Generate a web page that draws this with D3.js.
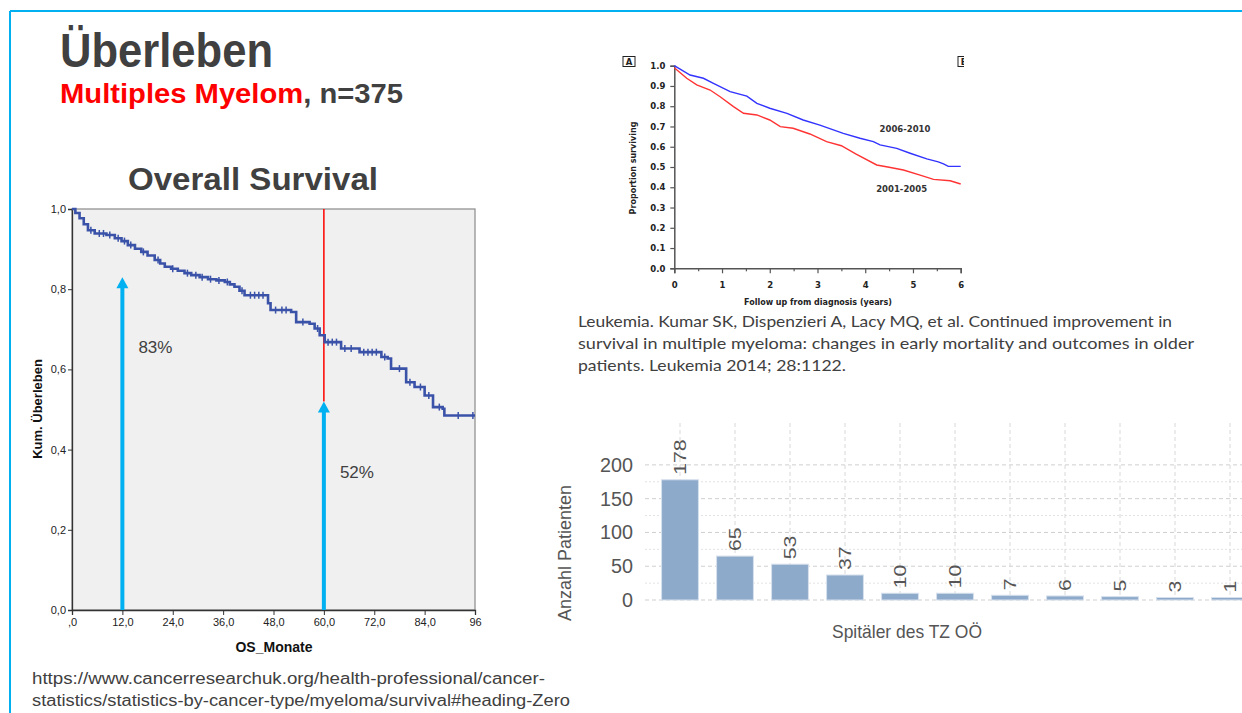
<!DOCTYPE html>
<html>
<head>
<meta charset="utf-8">
<script src="https://cdn.jsdelivr.net/npm/d3@7"></script>
<style>
  body { margin: 0; background: #fff; }
  svg { display: block; }
</style>
</head>
<body>
<svg id="slide" width="1242" height="713"></svg>
<script>
// ---- Overall Survival (Kaplan-Meier, OS in months) ----
var kmMonths = [0, 0.8, 1.8, 2.8, 3.8, 5.4, 8.2, 10.2, 11.8, 13.3, 15, 16.5, 18, 19.7, 21, 22.1, 23.6, 25.2, 26.8, 28.4,
                30.4, 32.4, 34.4, 36.4, 37.6, 38.7, 39.9, 41.1, 46.7, 47.3, 52.2, 53.4, 56.6, 57.8, 59, 60.2, 64.1, 68.5,
                73.7, 75.2, 76, 79.6, 81.6, 84, 86, 88.3, 88.7, 96];
var kmSurv = [1.0, 0.99, 0.977, 0.962, 0.947, 0.939, 0.935, 0.927, 0.92, 0.91, 0.901, 0.893, 0.884, 0.873, 0.864, 0.856,
              0.851, 0.846, 0.84, 0.835, 0.83, 0.825, 0.822, 0.818, 0.812, 0.806, 0.796, 0.785, 0.765, 0.748, 0.743,
              0.718, 0.714, 0.702, 0.685, 0.668, 0.652, 0.643, 0.631, 0.627, 0.602, 0.568, 0.556, 0.535, 0.506, 0.502,
              0.485, 0.485];
var kmCensored = [4.5, 6.5, 7.5, 9, 11, 12.5, 14, 17, 20.5, 24, 27.5, 29.5, 31, 33, 35, 37, 40.5, 42.5, 43.5, 44.5, 45.5,
                  48.5, 50, 51, 55, 58.5, 61, 62, 63, 65, 66.5, 69.5, 70.5, 71.5, 72.5, 74.5, 78, 80.5, 83, 85, 87.5, 92, 95.5];
var kmXTicks = [0, 12, 24, 36, 48, 60, 72, 84, 96];
var kmXLabels = [",0", "12,0", "24,0", "36,0", "48,0", "60,0", "72,0", "84,0", "96"];
var kmYTicks = [0, 0.2, 0.4, 0.6, 0.8, 1.0];
var markMonths = [12, 60];
var markValues = [0.83, 0.52];
var markLabels = ["83%", "52%"];

// ---- Kumar et al. survival by period (years) ----
var blueYears = [0, 0.33, 0.61, 0.82, 1.17, 1.52, 1.73, 2.0, 2.36, 2.7, 3.05, 3.54, 3.89, 4.17, 4.31, 4.66, 4.94, 5.29, 5.53, 5.64, 5.74, 6.0];
var blueSurv  = [1.0, 0.954, 0.938, 0.913, 0.872, 0.85, 0.814, 0.79, 0.765, 0.732, 0.707, 0.666, 0.642, 0.625, 0.609, 0.592, 0.568, 0.54, 0.525, 0.515, 0.503, 0.503];
var redYears  = [0, 0.26, 0.47, 0.75, 0.96, 1.24, 1.45, 1.73, 2.0, 2.22, 2.49, 2.84, 3.19, 3.5, 3.8, 4.24, 4.5, 4.8, 5.15, 5.43, 5.78, 6.0];
var redSurv   = [0.99, 0.938, 0.905, 0.88, 0.847, 0.798, 0.765, 0.757, 0.732, 0.699, 0.691, 0.663, 0.625, 0.605, 0.565, 0.51, 0.499, 0.485, 0.46, 0.439, 0.432, 0.416];
var periodLabels = ["2006-2010", "2001-2005"];
var kuYTicks = [0, 0.1, 0.2, 0.3, 0.4, 0.5, 0.6, 0.7, 0.8, 0.9, 1.0];
var kuXTicks = [0, 1, 2, 3, 4, 5, 6];

// ---- Patients per hospital ----
var hospitals = ["S1", "S2", "S3", "S4", "S5", "S6", "S7", "S8", "S9", "S10", "S11"];
var patients = [178, 65, 53, 37, 10, 10, 7, 6, 5, 3, 1];
var barYTicks = [0, 50, 100, 150, 200];

var svg = d3.select("#slide");
var grey = "#404040";

// slide frame
svg.append("line").attr("x1", 10).attr("y1", 11).attr("x2", 1242).attr("y2", 11)
    .attr("stroke", "#00b0f0").attr("stroke-width", 2);
svg.append("line").attr("x1", 10).attr("y1", 11).attr("x2", 10).attr("y2", 713)
    .attr("stroke", "#00b0f0").attr("stroke-width", 2);

// titles
svg.append("text").attr("x", 60).attr("y", 67).text("Überleben")
    .attr("font-family", "Liberation Sans, Arial").attr("font-weight", "bold").attr("font-size", 48)
    .attr("fill", grey).attr("textLength", 213).attr("lengthAdjust", "spacingAndGlyphs");
var sub = svg.append("text").attr("x", 60).attr("y", 103)
    .attr("font-family", "Liberation Sans, Arial").attr("font-weight", "bold").attr("font-size", 27)
    .attr("textLength", 343).attr("lengthAdjust", "spacingAndGlyphs");
sub.append("tspan").attr("fill", "#ff0000").text("Multiples Myelom");
sub.append("tspan").attr("fill", grey).text(", n=375");
svg.append("text").attr("x", 128).attr("y", 190).text("Overall Survival")
    .attr("font-family", "Liberation Sans, Arial").attr("font-weight", "bold").attr("font-size", 31)
    .attr("fill", grey).attr("textLength", 250).attr("lengthAdjust", "spacingAndGlyphs");

// ================= KM chart =================
var km = svg.append("g").attr("font-family", "Liberation Sans, Arial");
var x = d3.scaleLinear().domain([0, 96]).range([72, 475]);
var y = d3.scaleLinear().domain([0, 1]).range([610, 209]);

km.append("rect").attr("x", x(0)).attr("y", y(1)).attr("width", x(96) - x(0)).attr("height", y(0) - y(1))
    .attr("fill", "#f0f0f0").attr("stroke", "#8a8a8a").attr("stroke-width", 1.2);

var yAxis = km.append("g").attr("transform", "translate(" + x(0) + ",0)")
    .call(d3.axisLeft(y).tickValues(kmYTicks).tickSize(4).tickPadding(2)
        .tickFormat(function (d) { return d3.format(".1f")(d).replace(".", ","); }));
var xAxis = km.append("g").attr("transform", "translate(0," + y(0) + ")")
    .call(d3.axisBottom(x).tickValues(kmXTicks).tickSize(5).tickPadding(3)
        .tickFormat(function (d, i) { return kmXLabels[i]; }));
[yAxis, xAxis].forEach(function (a) {
    a.select(".domain").attr("stroke", "#333").attr("stroke-width", 1.3);
    a.selectAll(".tick line").attr("stroke", "#333");
    a.selectAll(".tick text").attr("font-size", 11).attr("fill", "#222").attr("font-family", "Liberation Sans, Arial");
});

km.append("text").attr("x", 274).attr("y", 652).attr("text-anchor", "middle")
    .attr("font-weight", "bold").attr("font-size", 14).attr("fill", "#111").text("OS_Monate");
km.append("text").attr("transform", "translate(42,409) rotate(-90)").attr("text-anchor", "middle")
    .attr("font-weight", "bold").attr("font-size", 13).attr("fill", "#111").text("Kum. Überleben");

// red reference line at 60 months
km.append("line").attr("x1", x(markMonths[1])).attr("x2", x(markMonths[1]))
    .attr("y1", y(1)).attr("y2", y(markValues[1]))
    .attr("stroke", "#ff0000").attr("stroke-width", 1.5);

var kmData = kmMonths.map(function (m, i) { return [m, kmSurv[i]]; });
var kmLine = d3.line().x(function (d) { return x(d[0]); }).y(function (d) { return y(d[1]); })
    .curve(d3.curveStepAfter);
km.append("path").datum(kmData).attr("d", kmLine)
    .attr("fill", "none").attr("stroke", "#3a52a8").attr("stroke-width", 2.6);

function survAt(t) {
    var s = kmSurv[0];
    for (var i = 0; i < kmMonths.length; i++) { if (kmMonths[i] <= t) s = kmSurv[i]; }
    return s;
}
km.selectAll(".cens").data(kmCensored).enter().append("line")
    .attr("x1", function (d) { return x(d); }).attr("x2", function (d) { return x(d); })
    .attr("y1", function (d) { return y(survAt(d)) - 3.5; })
    .attr("y2", function (d) { return y(survAt(d)) + 3.5; })
    .attr("stroke", "#3a52a8").attr("stroke-width", 1.5);

// arrows
markMonths.forEach(function (m, i) {
    var tip = y(markValues[i]);
    km.append("line").attr("x1", x(m)).attr("x2", x(m)).attr("y1", y(0)).attr("y2", tip + 8)
        .attr("stroke", "#00b0f0").attr("stroke-width", 4);
    km.append("path")
        .attr("d", "M" + x(m) + "," + tip + "L" + (x(m) - 6) + "," + (tip + 11) + "L" + (x(m) + 6) + "," + (tip + 11) + "Z")
        .attr("fill", "#00b0f0");
    km.append("text").attr("x", x(m) + 16).attr("y", y(markValues[i] - 0.19))
        .attr("font-size", 17).attr("fill", grey).text(markLabels[i]);
});

// ================= Kumar chart =================
var ku = svg.append("g").attr("font-family", "DejaVu Sans, Verdana").attr("font-weight", "bold");
var kx = d3.scaleLinear().domain([0, 6]).range([674.3, 960.7]);
var ky = d3.scaleLinear().domain([0, 1]).range([268.3, 65.7]);

var kyAxis = ku.append("g").attr("transform", "translate(" + kx(0) + ",0)")
    .call(d3.axisLeft(ky).tickValues(kuYTicks).tickSize(4).tickPadding(5).tickFormat(d3.format(".1f")));
var kxAxis = ku.append("g").attr("transform", "translate(0," + ky(0) + ")")
    .call(d3.axisBottom(kx).tickValues(kuXTicks).tickSize(5).tickPadding(9).tickFormat(d3.format("d")));
ku.append("g").attr("transform", "translate(0," + ky(0) + ")")
    .call(d3.axisBottom(kx).tickValues([0.5, 1.5, 2.5, 3.5, 4.5, 5.5]).tickSize(3).tickFormat(""))
    .select(".domain").remove();
ku.selectAll(".domain").attr("stroke", "#555").attr("stroke-width", 1.5);
ku.selectAll(".tick line").attr("stroke", "#555").attr("stroke-width", 1.2);
ku.selectAll(".tick text").attr("font-size", 8.5).attr("fill", "#222")
    .attr("font-family", "DejaVu Sans, Verdana").attr("font-weight", "bold");

var kuLine = d3.line().x(function (d) { return kx(d[0]); }).y(function (d) { return ky(d[1]); });
ku.append("path").datum(blueYears.map(function (v, i) { return [v, blueSurv[i]]; }))
    .attr("d", kuLine).attr("fill", "none").attr("stroke", "#3333ff").attr("stroke-width", 1.4);
ku.append("path").datum(redYears.map(function (v, i) { return [v, redSurv[i]]; }))
    .attr("d", kuLine).attr("fill", "none").attr("stroke", "#ff3333").attr("stroke-width", 1.4);

ku.append("text").attr("x", kx(4.3)).attr("y", ky(0.675)).attr("font-size", 8.5).attr("fill", "#333").text(periodLabels[0]);
ku.append("text").attr("x", kx(4.23)).attr("y", ky(0.375)).attr("font-size", 8.5).attr("fill", "#333").text(periodLabels[1]);

ku.append("text").attr("x", 818).attr("y", 305).attr("text-anchor", "middle").attr("font-size", 8)
    .attr("fill", "#222").text("Follow up from diagnosis (years)");
ku.append("text").attr("transform", "translate(636,168) rotate(-90)").attr("text-anchor", "middle")
    .attr("font-size", 8).attr("fill", "#222").text("Proportion surviving");

// panel letters
ku.append("rect").attr("x", 623).attr("y", 56.5).attr("width", 12).attr("height", 10)
    .attr("fill", "#fff").attr("stroke", "#222").attr("stroke-width", 1);
ku.append("text").attr("x", 629).attr("y", 65).attr("text-anchor", "middle").attr("font-size", 8.5).attr("fill", "#222").text("A");
svg.append("clipPath").attr("id", "clipB").append("rect").attr("x", 955).attr("y", 50).attr("width", 9).attr("height", 20);
var bBox = ku.append("g").attr("clip-path", "url(#clipB)");
bBox.append("rect").attr("x", 958).attr("y", 56.5).attr("width", 12).attr("height", 10)
    .attr("fill", "#fff").attr("stroke", "#222").attr("stroke-width", 1);
bBox.append("text").attr("x", 964).attr("y", 65).attr("text-anchor", "middle").attr("font-size", 8.5).attr("fill", "#222").text("B");

// citation
var cite = ["Leukemia. Kumar SK, Dispenzieri A, Lacy MQ, et al. Continued improvement in",
            "survival in multiple myeloma: changes in early mortality and outcomes in older",
            "patients. Leukemia 2014; 28:1122."];
var citeLen = [594, 616, 268];
svg.selectAll(".cite").data(cite).enter().append("text")
    .attr("x", 578).attr("y", function (d, i) { return 327 + i * 22; })
    .attr("font-family", "Lato, Carlito, sans-serif").attr("font-size", 16).attr("fill", grey)
    .attr("textLength", function (d, i) { return citeLen[i]; }).attr("lengthAdjust", "spacingAndGlyphs")
    .text(function (d) { return d; });

// ================= Bar chart =================
var bc = svg.append("g").attr("font-family", "Liberation Sans, Arial");
var bx = d3.scaleBand().domain(hospitals).range([652.5, 1257.5]).paddingInner(0.33).paddingOuter(0.165);
var by = d3.scaleLinear().domain([0, 262]).range([600, 423]);

d3.range(0, 201, 25).forEach(function (v) {
    bc.append("line").attr("x1", 645).attr("x2", 1242).attr("y1", by(v)).attr("y2", by(v))
        .attr("stroke", v % 50 === 0 ? "#cfcfcf" : "#e2e2e2")
        .attr("stroke-dasharray", v % 50 === 0 ? "4,3" : "2,2").attr("stroke-width", 1);
});
bc.selectAll(".vgrid").data(hospitals).enter().append("line")
    .attr("x1", function (d) { return bx(d) + bx.bandwidth() / 2; })
    .attr("x2", function (d) { return bx(d) + bx.bandwidth() / 2; })
    .attr("y1", by.range()[1]).attr("y2", by(0))
    .attr("stroke", "#d8d8d8").attr("stroke-dasharray", "4,3");

bc.selectAll(".bar").data(patients).enter().append("rect")
    .attr("x", function (d, i) { return bx(hospitals[i]); })
    .attr("y", function (d) { return Math.min(by(d), by(0) - 2.5); })
    .attr("width", bx.bandwidth())
    .attr("height", function (d) { return Math.max(by(0) - by(d), 2.5); })
    .attr("fill", "#8eaacb").attr("stroke", "#d6e0ec").attr("stroke-width", 1);

bc.selectAll(".val").data(patients).enter().append("text")
    .attr("transform", function (d, i) {
        return "translate(" + (bx(hospitals[i]) + bx.bandwidth() / 2 + 6) + "," + (Math.min(by(d), by(0) - 2.5) - 5) + ") rotate(-90)";
    })
    .attr("font-size", 17).attr("fill", "#555")
    .attr("textLength", function (d) { return String(d).length * 11.8; }).attr("lengthAdjust", "spacingAndGlyphs")
    .text(function (d) { return d; });

bc.selectAll(".ytl").data(barYTicks).enter().append("text")
    .attr("x", 633).attr("y", function (d) { return by(d) + 7; }).attr("text-anchor", "end")
    .attr("font-size", 20).attr("fill", "#555")
    .attr("textLength", function (d) { return String(d).length * 11; }).attr("lengthAdjust", "spacingAndGlyphs")
    .text(function (d) { return d; });

bc.append("text").attr("transform", "translate(571,553) rotate(-90)").attr("text-anchor", "middle")
    .attr("font-size", 18).attr("fill", "#555").attr("textLength", 136).attr("lengthAdjust", "spacingAndGlyphs")
    .text("Anzahl Patienten");
bc.append("text").attr("x", 832).attr("y", 638)
    .attr("font-size", 19).attr("fill", "#555").attr("textLength", 150).attr("lengthAdjust", "spacingAndGlyphs")
    .text("Spitäler des TZ OÖ");

// source url
var url = ["https://www.cancerresearchuk.org/health-professional/cancer-",
           "statistics/statistics-by-cancer-type/myeloma/survival#heading-Zero"];
var urlLen = [513, 538];
svg.selectAll(".url").data(url).enter().append("text")
    .attr("x", 32).attr("y", function (d, i) { return 684 + i * 22; })
    .attr("font-family", "Liberation Sans, Arial").attr("font-size", 16).attr("fill", grey)
    .attr("textLength", function (d, i) { return urlLen[i]; }).attr("lengthAdjust", "spacingAndGlyphs")
    .text(function (d) { return d; });
</script>
</body>
</html>
